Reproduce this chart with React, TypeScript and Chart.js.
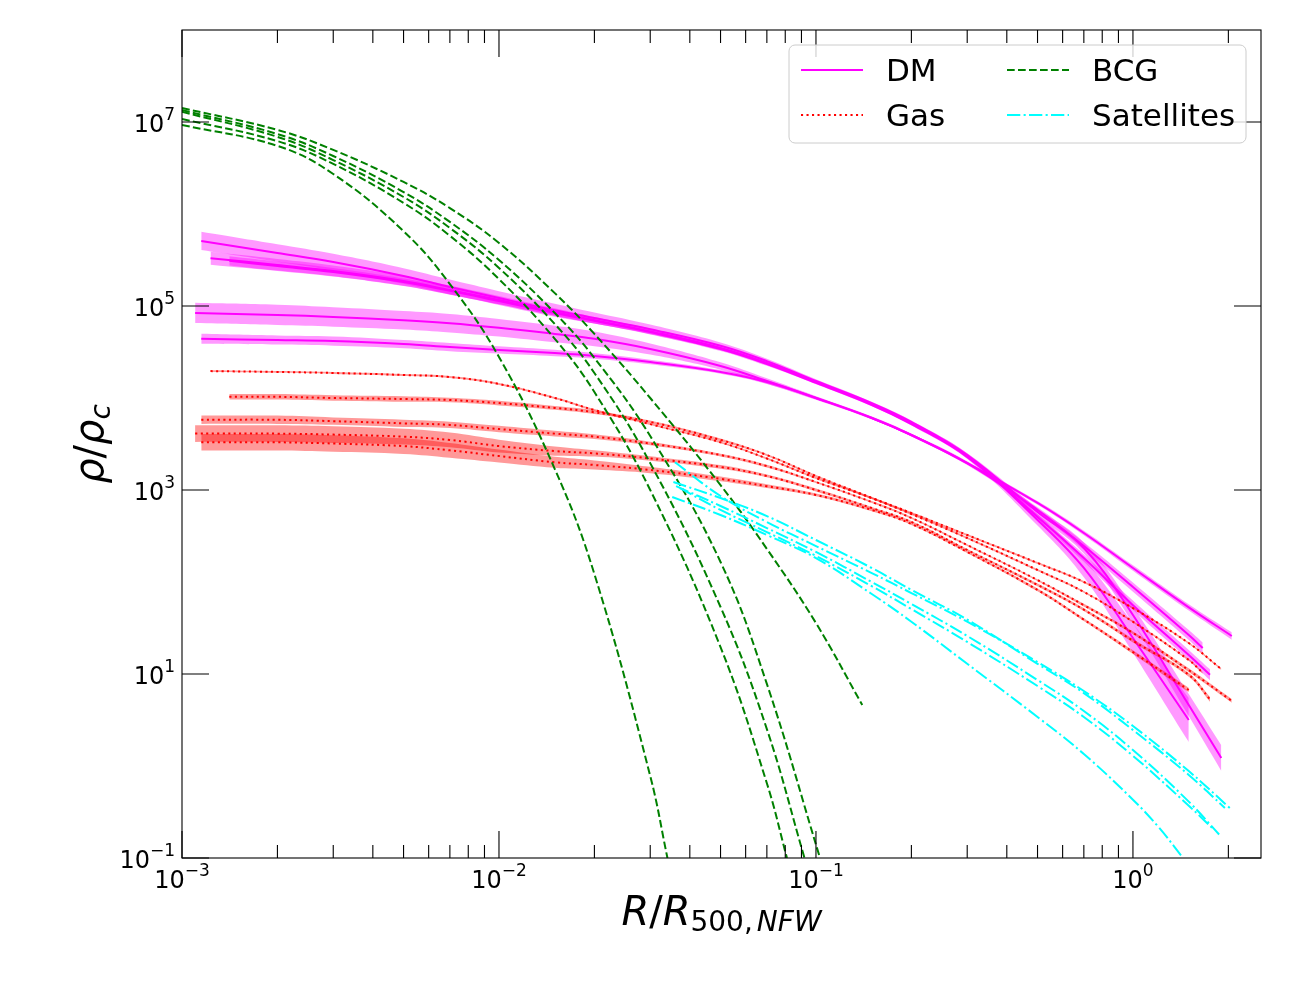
import React, { useEffect, useRef } from 'react';
import { Chart, registerables } from 'chart.js';

Chart.register(...registerables);

type Pt = [number, number];
// [R/R500, rho/rho_c, band half-width in dex]
type BandPt = [number, number, number];

const dm1: BandPt[] = [
  [1.15e-3, 5.1e5, 0.1], [0.002, 3.77e5, 0.095], [0.003, 3.0e5, 0.09], [0.005, 2.12e5, 0.085],
  [0.007, 1.61e5, 0.08], [0.01, 1.22e5, 0.075], [0.015, 9.0e4, 0.07], [0.02, 7.4e4, 0.06],
  [0.03, 5.6e4, 0.05], [0.05, 3.7e4, 0.035], [0.07, 2.52e4, 0.025], [0.1, 1.53e4, 0.02],
  [0.15, 8.8e3, 0.015], [0.2, 5.5e3, 0.015], [0.3, 2.4e3, 0.02], [0.5, 577, 0.04],
  [0.7, 234, 0.06], [1.0, 43.8, 0.09], [1.5, 4.6, 0.12], [1.9, 1.22, 0.14],
];
const dm2: BandPt[] = [
  [1.23e-3, 3.3e5, 0.07], [0.002, 2.79e5, 0.065], [0.003, 2.4e5, 0.06], [0.005, 1.87e5, 0.055],
  [0.007, 1.49e5, 0.05], [0.01, 1.16e5, 0.045], [0.015, 8.6e4, 0.04], [0.02, 7.0e4, 0.035],
  [0.03, 5.3e4, 0.03], [0.05, 3.5e4, 0.025], [0.07, 2.4e4, 0.02], [0.1, 1.49e4, 0.015],
  [0.15, 8.6e3, 0.015], [0.2, 5.35e3, 0.015], [0.3, 2.34e3, 0.03], [0.5, 472, 0.06],
  [0.7, 142, 0.1], [1.0, 24.6, 0.16], [1.5, 3.16, 0.24],
];
const dm3: BandPt[] = [
  [1.41e-3, 3.1e5, 0.05], [0.002, 2.72e5, 0.05], [0.003, 2.34e5, 0.045], [0.005, 1.82e5, 0.04],
  [0.007, 1.46e5, 0.04], [0.01, 1.13e5, 0.035], [0.015, 8.4e4, 0.03], [0.02, 6.9e4, 0.03],
  [0.03, 5.2e4, 0.025], [0.05, 3.4e4, 0.02], [0.07, 2.34e4, 0.02], [0.1, 1.46e4, 0.015],
  [0.15, 8.4e3, 0.015], [0.2, 5.2e3, 0.015], [0.3, 2.29e3, 0.02], [0.5, 509, 0.03],
  [0.7, 182, 0.04], [1.0, 56, 0.05], [1.5, 16.1, 0.055], [1.75, 9.8, 0.06],
];
const dm4: BandPt[] = [
  [1.1e-3, 8.4e4, 0.11], [0.002, 8.0e4, 0.11], [0.003, 7.6e4, 0.105], [0.005, 7.0e4, 0.1],
  [0.007, 6.5e4, 0.1], [0.01, 5.8e4, 0.095], [0.015, 4.97e4, 0.09], [0.02, 4.4e4, 0.08],
  [0.03, 3.41e4, 0.06], [0.05, 2.23e4, 0.04], [0.07, 1.53e4, 0.03], [0.1, 1.0e4, 0.02],
  [0.15, 6.07e3, 0.015], [0.2, 3.96e3, 0.015], [0.3, 1.96e3, 0.02], [0.5, 607, 0.03],
  [0.7, 246, 0.04], [1.0, 88, 0.05], [1.5, 26.5, 0.055], [1.66, 19.2, 0.06],
];
const dm5: BandPt[] = [
  [1.15e-3, 4.4e4, 0.055], [0.002, 4.27e4, 0.05], [0.003, 4.16e4, 0.05], [0.005, 3.86e4, 0.045],
  [0.007, 3.58e4, 0.045], [0.01, 3.33e4, 0.04], [0.015, 3.08e4, 0.035], [0.02, 2.86e4, 0.03],
  [0.03, 2.46e4, 0.025], [0.05, 1.92e4, 0.02], [0.07, 1.49e4, 0.02], [0.1, 1.0e4, 0.015],
  [0.15, 6.07e3, 0.015], [0.2, 3.96e3, 0.015], [0.3, 1.96e3, 0.015], [0.5, 723, 0.02],
  [0.7, 341, 0.025], [1.0, 142, 0.03], [1.5, 53, 0.035], [2.05, 25.9, 0.04],
];

const gas1: BandPt[] = [
  [1.23e-3, 1.96e4, 0.01], [0.002, 1.92e4, 0.01], [0.003, 1.87e4, 0.01], [0.005, 1.78e4, 0.01],
  [0.007, 1.69e4, 0.01], [0.01, 1.42e4, 0.01], [0.015, 1.0e4, 0.01], [0.02, 7.4e3, 0.01],
  [0.03, 5.2e3, 0.01], [0.05, 3.3e3, 0.01], [0.07, 2.2e3, 0.01], [0.1, 1.35e3, 0.01],
  [0.15, 818, 0.01], [0.2, 562, 0.01], [0.3, 324, 0.01], [0.5, 161, 0.01],
  [0.7, 100, 0.01], [1.0, 52, 0.01], [1.5, 21.7, 0.01], [1.9, 11.3, 0.01],
];
const gas2: BandPt[] = [
  [1.41e-3, 1.03e4, 0.03], [0.002, 1.03e4, 0.03], [0.003, 1.0e4, 0.03], [0.005, 9.75e3, 0.03],
  [0.007, 9.5e3, 0.025], [0.01, 8.8e3, 0.025], [0.015, 7.8e3, 0.02], [0.02, 7.0e3, 0.02],
  [0.03, 5.5e3, 0.015], [0.05, 3.5e3, 0.015], [0.07, 2.4e3, 0.01], [0.1, 1.42e3, 0.01],
  [0.15, 818, 0.01], [0.2, 548, 0.01], [0.3, 301, 0.01], [0.5, 135, 0.01],
  [0.7, 78, 0.01], [1.0, 37, 0.01], [1.5, 14.2, 0.01], [1.66, 10.3, 0.01],
];
const gas3: BandPt[] = [
  [1.15e-3, 5.8e3, 0.045], [0.002, 5.8e3, 0.045], [0.003, 5.6e3, 0.04], [0.005, 5.3e3, 0.04],
  [0.007, 5.1e3, 0.035], [0.01, 4.6e3, 0.035], [0.015, 4.1e3, 0.03], [0.02, 3.8e3, 0.025],
  [0.03, 3.2e3, 0.02], [0.05, 2.4e3, 0.015], [0.07, 1.82e3, 0.015], [0.1, 1.22e3, 0.01],
  [0.15, 740, 0.01], [0.2, 497, 0.01], [0.3, 252, 0.01], [0.5, 105, 0.01],
  [0.7, 56, 0.015], [1.0, 28, 0.015], [1.5, 11.0, 0.02], [2.05, 5.1, 0.02],
];
const gas4: BandPt[] = [
  [1.1e-3, 4.1e3, 0.09], [0.002, 4.1e3, 0.09], [0.003, 4.0e3, 0.09], [0.005, 3.8e3, 0.085],
  [0.007, 3.5e3, 0.08], [0.01, 3.0e3, 0.07], [0.015, 2.65e3, 0.05], [0.02, 2.5e3, 0.035],
  [0.03, 2.2e3, 0.025], [0.05, 1.78e3, 0.02], [0.07, 1.42e3, 0.015], [0.1, 1.0e3, 0.015],
  [0.15, 637, 0.01], [0.2, 449, 0.01], [0.3, 223, 0.01], [0.5, 93, 0.015],
  [0.7, 50, 0.015], [1.0, 23, 0.02], [1.5, 9.8, 0.02], [1.75, 5.3, 0.025],
];
const gas5: BandPt[] = [
  [1.15e-3, 3.3e3, 0.09], [0.002, 3.3e3, 0.09], [0.003, 3.2e3, 0.09], [0.005, 3.0e3, 0.085],
  [0.007, 2.7e3, 0.08], [0.01, 2.34e3, 0.07], [0.015, 2.0e3, 0.06], [0.02, 1.87e3, 0.05],
  [0.03, 1.65e3, 0.035], [0.05, 1.32e3, 0.025], [0.07, 1.1e3, 0.02], [0.1, 883, 0.015],
  [0.15, 607, 0.015], [0.2, 427, 0.01], [0.3, 212, 0.01], [0.5, 82, 0.015],
  [0.7, 39, 0.015], [1.0, 17.3, 0.02], [1.5, 6.7, 0.025],
];

const bcg1: Pt[] = [
  [1e-3, 9.3e6], [0.002, 5.5e6], [0.003, 2.72e6], [0.005, 6.5e5], [0.007, 1.73e5],
  [0.01, 2.79e4], [0.015, 1.69e3], [0.02, 122], [0.03, 0.78], [0.034, 0.1],
];
const bcg2: Pt[] = [
  [1e-3, 1.08e7], [0.002, 6.2e6], [0.003, 3.5e6], [0.005, 1.32e6], [0.007, 5.8e5], [0.01, 1.96e5],
  [0.015, 4.4e4], [0.02, 1.16e4], [0.03, 1.0e3], [0.05, 19.6], [0.07, 0.65], [0.081, 0.1],
];
const bcg3: Pt[] = [
  [1e-3, 1.29e7], [0.002, 6.9e6], [0.003, 3.86e6], [0.005, 1.53e6], [0.007, 7.05e5], [0.01, 2.59e5],
  [0.015, 6.37e4], [0.02, 1.87e4], [0.03, 1.96e3], [0.05, 53.5], [0.07, 2.52], [0.092, 0.1],
];
const bcg4: Pt[] = [
  [1e-3, 1.35e7], [0.002, 7.4e6], [0.003, 4.27e6], [0.005, 1.73e6], [0.007, 8.2e5], [0.01, 3.16e5],
  [0.015, 8.4e4], [0.02, 2.72e4], [0.03, 3.86e3], [0.05, 165], [0.07, 7.8], [0.103, 0.1],
];
const bcg5: Pt[] = [
  [1e-3, 1.42e7], [0.002, 8.2e6], [0.003, 4.97e6], [0.005, 2.23e6], [0.007, 1.16e6], [0.01, 4.84e5],
  [0.015, 1.38e5], [0.02, 4.97e4], [0.03, 1.0e4], [0.05, 1.13e3], [0.07, 229], [0.1, 35.8], [0.14, 4.6],
];

const sat1: Pt[] = [
  [0.0359, 2.0e3], [0.05, 861], [0.07, 449], [0.1, 246], [0.15, 125], [0.2, 75.9],
  [0.3, 37], [0.5, 13.5], [0.7, 6.53], [1.0, 2.72], [1.5, 0.88], [2.02, 0.35],
];
const sat2: Pt[] = [
  [0.0355, 1.22e3], [0.05, 818], [0.07, 521], [0.1, 286], [0.15, 142], [0.2, 82],
  [0.3, 39], [0.5, 12.9], [0.7, 6.2], [1.0, 2.46], [1.5, 0.8], [1.95, 0.35],
];
const sat3: Pt[] = [
  [0.0362, 1.1e3], [0.05, 670], [0.07, 386], [0.1, 212], [0.15, 100], [0.2, 57.7],
  [0.3, 25.9], [0.5, 8.6], [0.7, 3.96], [1.0, 1.49], [1.5, 0.41], [1.87, 0.18],
];
const sat4: Pt[] = [
  [0.0372, 1.05e3], [0.05, 607], [0.07, 349], [0.1, 192], [0.15, 90], [0.2, 50.8],
  [0.3, 22.3], [0.5, 7.4], [0.7, 3.41], [1.0, 1.29], [1.5, 0.37], [1.81, 0.2],
];
const sat5: Pt[] = [
  [0.0352, 840], [0.05, 535], [0.07, 324], [0.1, 182], [0.15, 74], [0.2, 37],
  [0.3, 12.9], [0.5, 3.41], [0.7, 1.35], [1.0, 0.43], [1.2, 0.22], [1.44, 0.1],
];

const xDecades = [-3, -2, -1, 0];
const yDecades = [-1, 1, 3, 5, 7];
const legendLabels = ['DM', 'Gas', 'BCG', 'Satellites'];

const DM_COLOR = '#ff00ff';
const DM_FILL = 'rgba(255, 0, 255, 0.4)';
const GAS_COLOR = '#ff0000';
const GAS_FILL = 'rgba(255, 0, 0, 0.4)';
const BCG_COLOR = '#008000';
const SAT_COLOR = '#00ffff';

const SOLID: number[] = [];
const DOTTED = [2.1, 3.4];
const DASHED = [7.7, 3.3];
const DASHDOT = [13.3, 3.3, 2.1, 3.3];

const FONT = '"DejaVu Sans", sans-serif';

function bandSets(profile: BandPt[], fill: string, order: number) {
  const common = {
    borderColor: 'transparent',
    borderWidth: 0,
    pointRadius: 0,
    tension: 0.4,
    order,
  };
  return [
    { ...common, fill: false, data: profile.map(([r, rho, e]) => ({ x: r, y: rho / Math.pow(10, e) })) },
    { ...common, fill: '-1', backgroundColor: fill, data: profile.map(([r, rho, e]) => ({ x: r, y: rho * Math.pow(10, e) })) },
  ];
}

function lineSet(points: Array<Pt | BandPt>, color: string, dash: number[], order: number) {
  return {
    data: points.map((p) => ({ x: p[0], y: p[1] })),
    borderColor: color,
    borderWidth: 2,
    borderDash: dash,
    borderCapStyle: 'butt',
    pointRadius: 0,
    fill: false,
    tension: 0.4,
    order,
  };
}

function powLabel(ctx: CanvasRenderingContext2D, exp: number, x: number, y: number, align: 'center' | 'right') {
  const sup = exp < 0 ? '\u2212' + -exp : String(exp);
  ctx.font = `24px ${FONT}`;
  const wb = ctx.measureText('10').width;
  ctx.font = `17px ${FONT}`;
  const ws = ctx.measureText(sup).width;
  const x0 = align === 'center' ? x - (wb + ws) / 2 : x - wb - ws;
  ctx.font = `24px ${FONT}`;
  ctx.fillText('10', x0, y);
  ctx.font = `17px ${FONT}`;
  ctx.fillText(sup, x0 + wb, y - 12);
}

type Seg = { t: string; font: string; dy?: number; gap?: number };

function drawSegs(ctx: CanvasRenderingContext2D, segs: Seg[], cx: number, baseline: number) {
  const widths = segs.map((s) => {
    ctx.font = s.font;
    return ctx.measureText(s.t).width + (s.gap || 0);
  });
  let x = cx - widths.reduce((a, b) => a + b, 0) / 2;
  segs.forEach((s, i) => {
    ctx.font = s.font;
    ctx.fillText(s.t, x, baseline + (s.dy || 0));
    x += widths[i];
  });
}

const framePlugin = {
  id: 'frame',
  afterDraw(chart: any) {
    const { ctx, chartArea } = chart;
    const { left, right, top, bottom } = chartArea;
    const xs = chart.scales.x;
    const ys = chart.scales.y;
    const MAJOR = 27;
    const MINOR = 13;

    ctx.save();
    ctx.setLineDash([]);
    ctx.strokeStyle = '#000';
    ctx.lineWidth = 1.1;
    ctx.beginPath();
    xDecades.forEach((d) => {
      const base = Math.pow(10, d);
      const px = xs.getPixelForValue(base);
      ctx.moveTo(px, bottom);
      ctx.lineTo(px, bottom - MAJOR);
      ctx.moveTo(px, top);
      ctx.lineTo(px, top + MAJOR);
      for (let k = 2; k <= 9; k++) {
        const v = k * base;
        if (v > xs.max) break;
        const mx = xs.getPixelForValue(v);
        ctx.moveTo(mx, bottom);
        ctx.lineTo(mx, bottom - MINOR);
        ctx.moveTo(mx, top);
        ctx.lineTo(mx, top + MINOR);
      }
    });
    yDecades.forEach((d) => {
      const py = ys.getPixelForValue(Math.pow(10, d));
      ctx.moveTo(left, py);
      ctx.lineTo(left + MAJOR, py);
      ctx.moveTo(right, py);
      ctx.lineTo(right - MAJOR, py);
    });
    ctx.stroke();
    ctx.strokeRect(left, top, right - left, bottom - top);

    // tick labels
    ctx.fillStyle = '#000';
    ctx.textAlign = 'left';
    ctx.textBaseline = 'alphabetic';
    xDecades.forEach((d) => powLabel(ctx, d, xs.getPixelForValue(Math.pow(10, d)), bottom + 30, 'center'));
    yDecades.forEach((d) => powLabel(ctx, d, left - 7, ys.getPixelForValue(Math.pow(10, d)) + 10, 'right'));

    // axis titles
    const big = `40px ${FONT}`;
    const bigIt = `italic 40px ${FONT}`;
    const sub = `28px ${FONT}`;
    const subIt = `italic 28px ${FONT}`;
    drawSegs(
      ctx,
      [
        { t: 'R', font: bigIt },
        { t: '/', font: big },
        { t: 'R', font: bigIt },
        { t: '500,', font: sub, dy: 6, gap: 4 },
        { t: 'NFW', font: subIt, dy: 6 },
      ],
      (left + right) / 2,
      925
    );
    ctx.save();
    ctx.translate(103, (top + bottom) / 2);
    ctx.rotate(-Math.PI / 2);
    drawSegs(
      ctx,
      [
        { t: 'ρ', font: bigIt },
        { t: '/', font: big },
        { t: 'ρ', font: bigIt },
        { t: 'c', font: subIt, dy: 7 },
      ],
      0,
      0
    );
    ctx.restore();

    // legend
    const lx = 789;
    const ly = 45;
    const lw = 457;
    const lh = 98;
    const r = 6;
    ctx.beginPath();
    ctx.moveTo(lx + r, ly);
    ctx.arcTo(lx + lw, ly, lx + lw, ly + lh, r);
    ctx.arcTo(lx + lw, ly + lh, lx, ly + lh, r);
    ctx.arcTo(lx, ly + lh, lx, ly, r);
    ctx.arcTo(lx, ly, lx + lw, ly, r);
    ctx.closePath();
    ctx.fillStyle = 'rgba(255, 255, 255, 0.8)';
    ctx.fill();
    ctx.strokeStyle = '#cccccc';
    ctx.lineWidth = 1;
    ctx.stroke();

    const styles = [
      { color: DM_COLOR, dash: SOLID },
      { color: GAS_COLOR, dash: DOTTED },
      { color: BCG_COLOR, dash: DASHED },
      { color: SAT_COLOR, dash: DASHDOT },
    ];
    const colX = [801, 1007];
    const rowY = [70, 115];
    legendLabels.forEach((label, i) => {
      const col = Math.floor(i / 2);
      const row = i % 2;
      const hx = colX[col];
      const hy = rowY[row];
      ctx.beginPath();
      ctx.strokeStyle = styles[i].color;
      ctx.lineWidth = 2;
      ctx.lineCap = 'butt';
      ctx.setLineDash(styles[i].dash);
      ctx.moveTo(hx, hy);
      ctx.lineTo(hx + 62, hy);
      ctx.stroke();
      ctx.setLineDash([]);
      ctx.fillStyle = '#000';
      ctx.font = `31px ${FONT}`;
      ctx.fillText(label, hx + 85, hy + 11);
    });
    ctx.restore();
  },
};

export default function App() {
  const canvasRef = useRef<HTMLCanvasElement>(null);

  useEffect(() => {
    if (!canvasRef.current) return;
    const dms = [dm1, dm2, dm3, dm4, dm5];
    const gases = [gas1, gas2, gas3, gas4, gas5];
    const bcgs = [bcg1, bcg2, bcg3, bcg4, bcg5];
    const sats = [sat1, sat2, sat3, sat4, sat5];

    const datasets: any[] = [
      ...dms.flatMap((p) => bandSets(p, DM_FILL, 5)),
      ...dms.map((p) => lineSet(p, DM_COLOR, SOLID, 4)),
      ...gases.flatMap((p) => bandSets(p, GAS_FILL, 3)),
      ...gases.map((p) => lineSet(p, GAS_COLOR, DOTTED, 2)),
      ...bcgs.map((p) => lineSet(p, BCG_COLOR, DASHED, 1)),
      ...sats.map((p) => lineSet(p, SAT_COLOR, DASHDOT, 0)),
    ];

    const chart = new Chart(canvasRef.current, {
      type: 'line',
      data: { datasets },
      options: {
        responsive: false,
        devicePixelRatio: 1,
        animation: false,
        events: [],
        layout: { padding: { left: 182, right: 39, top: 30, bottom: 142 } },
        plugins: { legend: { display: false }, tooltip: { enabled: false } },
        scales: {
          x: { type: 'logarithmic', min: 1e-3, max: 2.535, bounds: 'data', display: false },
          y: { type: 'logarithmic', min: 0.1, max: 1e8, bounds: 'data', display: false },
        },
      } as any,
      plugins: [framePlugin],
    });

    return () => chart.destroy();
  }, []);

  return (
    <div style={{ position: 'absolute', left: 0, top: 0, width: 1300, height: 1000, background: '#fff' }}>
      <canvas ref={canvasRef} width={1300} height={1000} />
    </div>
  );
}
